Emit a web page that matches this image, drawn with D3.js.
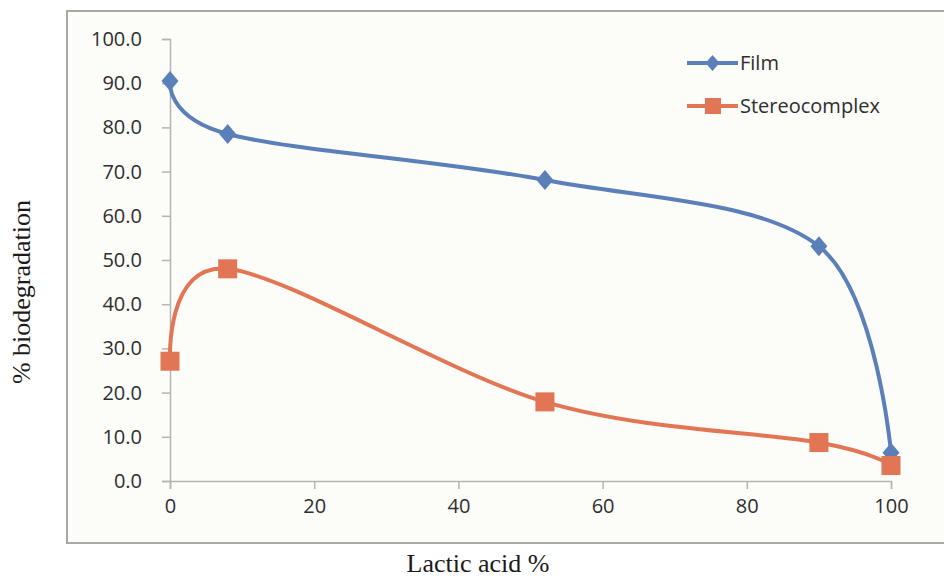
<!DOCTYPE html>
<html>
<head>
<meta charset="utf-8">
<script src="https://cdn.jsdelivr.net/npm/d3@7"></script>
<style>
  body { margin: 0; background: #ffffff; }
  svg { display: block; }
</style>
</head>
<body>
<script>
// chart data
const lacticAcid = [0, 8, 52, 90, 100];
const filmValues = [90.5, 78.5, 68.1, 53.1, 6.4];
const stereoValues = [27.1, 48.0, 17.9, 8.7, 3.5];
const seriesNames = ["Film", "Stereocomplex"];
const xTicks = [0, 20, 40, 60, 80, 100];
const yTicks = [0, 10, 20, 30, 40, 50, 60, 70, 80, 90, 100];

function getDimensions() {
  const DIMENSIONS = {
    width: 944,
    height: 580,
    plot: { left: 170, right: 891, top: 39, bottom: 481 },
  }
  return DIMENSIONS
}

function lineChart() {
  const DM = getDimensions();
  const BLUE = "#5b7fb9";
  const ORANGE = "#e27553";

  const SVG = d3.select("body")
                .append("svg")
                .attr("width", DM.width)
                .attr("height", DM.height);

  // chart frame
  SVG.append("rect")
     .attr("x", 67).attr("y", 11)
     .attr("width", 900).attr("height", 532)
     .attr("fill", "#fcfcf9")
     .attr("stroke", "#aaa6a6")
     .attr("stroke-width", 2);

  const xScale = d3.scaleLinear()
                   .domain([0, 100])
                   .range([DM.plot.left, DM.plot.right]);
  const yScale = d3.scaleLinear()
                   .domain([0, 100])
                   .range([DM.plot.bottom, DM.plot.top]);

  const xAxis = d3.axisBottom(xScale)
                  .tickValues(xTicks)
                  .tickSizeOuter(0)
                  .tickSize(8)
                  .tickPadding(10)
                  .tickFormat(d3.format("d"));
  const yAxis = d3.axisLeft(yScale)
                  .tickValues(yTicks)
                  .tickSizeOuter(0)
                  .tickSize(8)
                  .tickPadding(20)
                  .tickFormat(d3.format(".1f"));

  const styleAxis = g => {
    g.selectAll("path, line").attr("stroke", "#b4b4b4").attr("stroke-width", 1.5);
    g.selectAll("text")
     .attr("fill", "#2e2e2e")
     .style("font-family", "'Open Sans', sans-serif")
     .style("font-size", "20px");
  };

  SVG.append("g")
     .attr("transform", `translate(0, ${DM.plot.bottom})`)
     .call(xAxis)
     .call(styleAxis);

  SVG.append("g")
     .attr("transform", `translate(${DM.plot.left}, 0)`)
     .call(yAxis)
     .call(styleAxis);

  const line = d3.line()
                 .x(d => xScale(d[0]))
                 .y(d => yScale(d[1]))
                 .curve(d3.curveCardinal.tension(0));

  const film = lacticAcid.map((x, i) => [x, filmValues[i]]);
  const stereo = lacticAcid.map((x, i) => [x, stereoValues[i]]);

  SVG.append("path")
     .datum(film)
     .attr("d", line)
     .attr("fill", "none")
     .attr("stroke", BLUE)
     .attr("stroke-width", 4);

  SVG.append("path")
     .datum(stereo)
     .attr("d", line)
     .attr("fill", "none")
     .attr("stroke", ORANGE)
     .attr("stroke-width", 4);

  const diamond = "M0,-10L8.5,0L0,10L-8.5,0Z";

  SVG.selectAll(".film-pt")
     .data(film)
     .enter().append("path")
     .attr("class", "film-pt")
     .attr("d", diamond)
     .attr("transform", d => `translate(${xScale(d[0])}, ${yScale(d[1])})`)
     .attr("fill", BLUE);

  SVG.selectAll(".stereo-pt")
     .data(stereo)
     .enter().append("rect")
     .attr("class", "stereo-pt")
     .attr("x", d => xScale(d[0]) - 9.5)
     .attr("y", d => yScale(d[1]) - 9.5)
     .attr("width", 19).attr("height", 19)
     .attr("fill", ORANGE);

  // legend
  const legend = SVG.append("g").attr("transform", "translate(687, 0)");
  const rows = [
    { name: seriesNames[0], color: BLUE, y: 63, shape: "diamond" },
    { name: seriesNames[1], color: ORANGE, y: 106, shape: "square" },
  ];
  rows.forEach(r => {
    legend.append("line")
          .attr("x1", 0).attr("x2", 51)
          .attr("y1", r.y).attr("y2", r.y)
          .attr("stroke", r.color).attr("stroke-width", 4);
    if (r.shape === "diamond") {
      legend.append("path")
            .attr("d", "M0,-8L7,0L0,8L-7,0Z")
            .attr("transform", `translate(25.5, ${r.y})`)
            .attr("fill", r.color);
    } else {
      legend.append("rect")
            .attr("x", 18).attr("y", r.y - 8)
            .attr("width", 16).attr("height", 16)
            .attr("fill", r.color);
    }
    legend.append("text")
          .attr("x", 53).attr("y", r.y)
          .attr("dy", "0.35em")
          .attr("fill", "#2e2e2e")
          .style("font-family", "'Open Sans', sans-serif")
          .style("font-size", "20px")
          .text(r.name);
  });

  // axis titles
  SVG.append("text")
     .attr("transform", "translate(30, 292) rotate(-90)")
     .attr("text-anchor", "middle")
     .attr("fill", "#1a1a1a")
     .style("font-family", "'Liberation Serif', 'Times New Roman', serif")
     .style("font-size", "26px")
     .text("% biodegradation");

  SVG.append("text")
     .attr("x", 478).attr("y", 572)
     .attr("text-anchor", "middle")
     .attr("fill", "#1a1a1a")
     .style("font-family", "'Liberation Serif', 'Times New Roman', serif")
     .style("font-size", "26px")
     .text("Lactic acid %");
}

lineChart();
</script>
</body>
</html>
